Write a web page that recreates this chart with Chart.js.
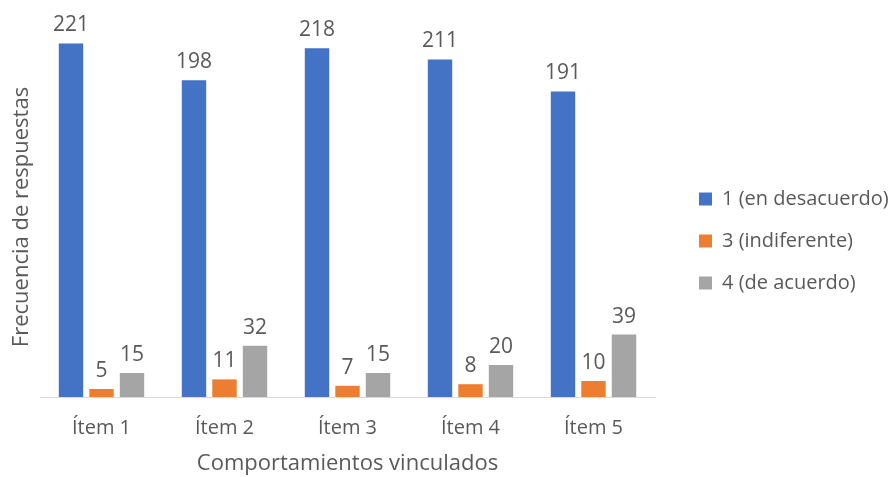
<!DOCTYPE html>
<html>
<head>
<meta charset="utf-8">
<script src="https://cdn.jsdelivr.net/npm/chart.js@4.4.1/dist/chart.umd.min.js"></script>
<style>
  html, body { margin: 0; padding: 0; background: #fff; }
  #wrap { width: 893px; height: 477px; }
</style>
</head>
<body>
<div id="wrap"><canvas id="myChart"></canvas></div>
<script>
// frequencies per item and answer
let items = ['Ítem 1', 'Ítem 2', 'Ítem 3', 'Ítem 4', 'Ítem 5'];
let desacuerdo = [221, 198, 218, 211, 191];
let indiferente = [5, 11, 7, 8, 10];
let deAcuerdo = [15, 32, 15, 20, 39];

const txt = '#595959';
const fam = '"Open Sans", "Noto Sans", sans-serif';

// numbers above every bar
let barLabels = {
  id: 'barLabels',
  afterDatasetsDraw(chart) {
    let ctx = chart.ctx;
    ctx.save();
    ctx.font = '21px ' + fam;
    ctx.fillStyle = txt;
    ctx.textAlign = 'center';
    ctx.textBaseline = 'alphabetic';
    chart.data.datasets.forEach((ds, i) => {
      chart.getDatasetMeta(i).data.forEach((bar, j) => {
        ctx.fillText(ds.data[j], bar.x, bar.y - 12);
      });
    });
    ctx.restore();
  }
};

// legend sits in a fixed strip on the right, items moved a bit
let legendStrip = {
  id: 'legendStrip',
  beforeLayout(chart) {
    let lg = chart.legend;
    if (!lg || lg._patched) return;
    lg._patched = true;
    let fit = lg.fit;
    lg.fit = function() {
      fit.call(this);
      this.width = 238;
      this.minSize = { width: 238, height: this.height };
    };
    let draw = lg.draw;
    lg.draw = function(area) {
      this.ctx.save();
      this.ctx.translate(22, -16);
      draw.call(this, area);
      this.ctx.restore();
    };
  }
};

let ctx = document.getElementById('myChart').getContext('2d');
window.chart = new Chart(ctx, {
  type: 'bar',
  data: {
    labels: items,
    datasets: [
      { label: '1 (en desacuerdo)', data: desacuerdo, backgroundColor: '#4472C4' },
      { label: '3 (indiferente)', data: indiferente, backgroundColor: '#ED7D31' },
      { label: '4 (de acuerdo)', data: deAcuerdo, backgroundColor: '#A5A5A5' }
    ]
  },
  options: {
    responsive: true,
    maintainAspectRatio: false,
    animation: false,
    events: [],
    categoryPercentage: 0.744,
    barPercentage: 0.8,
    layout: { padding: { top: 37, left: 0, right: 0, bottom: 0 } },
    plugins: {
      tooltip: { enabled: false },
      legend: {
        position: 'right',
        labels: {
          boxWidth: 13,
          boxHeight: 13,
          padding: 22,
          color: txt,
          font: { family: fam, size: 20 }
        }
      }
    },
    scales: {
      x: {
        grid: { display: false },
        border: { color: '#D9D9D9', width: 1 },
        ticks: { color: txt, font: { family: fam, size: 20 }, padding: 11 },
        title: {
          display: true,
          text: 'Comportamientos vinculados',
          color: txt,
          font: { family: fam, size: 22 },
          padding: { top: 0, bottom: 0 }
        },
        afterFit(scale) { scale.height = 80; }
      },
      y: {
        min: 0,
        max: 225,
        grid: { display: false },
        border: { display: false },
        ticks: { display: false },
        title: {
          display: true,
          text: 'Frecuencia de respuestas',
          color: txt,
          font: { family: fam, size: 22 },
          padding: { top: 9, bottom: 0 }
        },
        afterFit(scale) { scale.width = 40; }
      }
    }
  },
  plugins: [barLabels, legendStrip]
});
</script>
</body>
</html>
